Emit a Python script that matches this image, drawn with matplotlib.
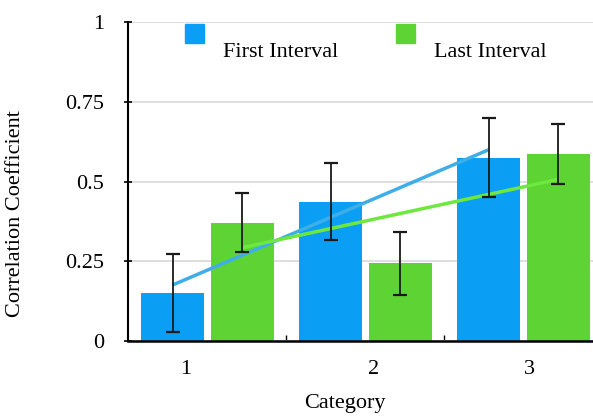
import numpy as np
import matplotlib
matplotlib.use("Agg")
import matplotlib.pyplot as plt
from matplotlib.patches import Rectangle

# data
categories = ["1", "2", "3"]
first_interval = [0.151, 0.437, 0.575]
last_interval = [0.371, 0.243, 0.585]
first_err = [0.122, 0.121, 0.123]
last_err = [0.093, 0.099, 0.094]
label_shift = [-0.14, 0.05, 0.04]  # tick labels sit a bit off-centre in the original

blue = "#0a9ef5"
green = "#5dd334"
blue_line = "#3eaee9"
green_line = "#6ee83f"

plt.rcParams["font.family"] = ["Liberation Serif", "DejaVu Serif"]

fig = plt.figure(figsize=(5.93, 4.16), dpi=100)
ax = fig.add_axes([0.2159, 0.1803, 0.7841, 0.7668])

x = np.arange(len(categories))
w = 0.40
off = 0.22

ax.bar(x - off, first_interval, w, color=blue, zorder=2)
ax.bar(x + off, last_interval, w, color=green, zorder=2)

# trend lines (linear fits of each series)
for vals, xs, col in [(first_interval, x - off, blue_line), (last_interval, x + off, green_line)]:
    k, b = np.polyfit(x, vals, 1)
    ax.plot(xs, k * x + b, color=col, lw=2.5, zorder=3, solid_capstyle="butt")

ax.errorbar(x - off, first_interval, yerr=first_err, fmt="none", ecolor="#1a1a1a",
            elinewidth=1.3, capsize=5, capthick=1.6, zorder=4)
ax.errorbar(x + off, last_interval, yerr=last_err, fmt="none", ecolor="#1a1a1a",
            elinewidth=1.3, capsize=5, capthick=1.6, zorder=4)

ax.set_xlim(-0.503, 2.44)
ax.set_ylim(0, 1)
ax.set_yticks([0, 0.25, 0.5, 0.75, 1])
ax.set_yticklabels(["0", "0.25", "0.5", "0.75", "1"], fontsize=16)
ax.grid(axis="y", color="#d9d9d9", lw=1.2, zorder=0)
ax.tick_params(axis="y", direction="inout", length=6, width=1.2, pad=14)

ax.set_xticks(x + np.array(label_shift))
ax.set_xticklabels(categories, fontsize=16)
ax.set_xticks([0.5, 1.5], minor=True)
ax.tick_params(axis="x", which="major", length=0, pad=14)
ax.tick_params(axis="x", which="minor", direction="in", length=4, width=1)

for s in ["top", "right"]:
    ax.spines[s].set_visible(False)
ax.spines["left"].set_linewidth(1.5)
ax.spines["bottom"].set_linewidth(1.8)

ax.set_xlabel("Category", fontsize=16)
ax.xaxis.set_label_coords(0.467, -0.165)
ax.set_ylabel("Correlation Coefficient", fontsize=16)
ax.yaxis.set_label_coords(-0.222, 0.4)

# legend drawn by hand: squares sit higher than the text
for px, col, txt in [(0.123, blue, "First Interval"), (0.577, green, "Last Interval")]:
    ax.add_patch(Rectangle((px, 0.934), 0.041, 0.06, transform=ax.transAxes,
                           color=col, clip_on=False, zorder=5))
    ax.text(px + 0.082, 0.905, txt, transform=ax.transAxes, fontsize=16,
            va="center", ha="left")

fig.savefig("out.png", dpi=100)
